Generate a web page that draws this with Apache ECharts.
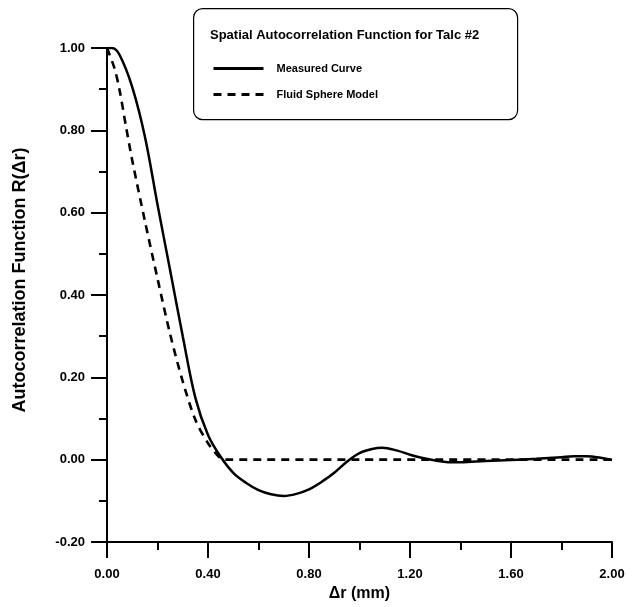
<!DOCTYPE html>
<html>
<head>
<meta charset="utf-8">
<script src="https://cdn.jsdelivr.net/npm/echarts@6/dist/echarts.min.js"></script>
<style>
  html, body { margin: 0; padding: 0; background: #fff; }
  #chart { width: 642px; height: 607px; }
</style>
</head>
<body>
<div id="chart"></div>
<script>
// measured autocorrelation, [dr (mm), R]
const measuredCurve = [
  [0, 1.0], [0.02, 1.0], [0.05, 0.983], [0.1, 0.905], [0.15, 0.785],
  [0.2, 0.62], [0.25, 0.46], [0.3, 0.30], [0.35, 0.15], [0.4, 0.06],
  [0.45, 0.007], [0.5, -0.032], [0.55, -0.056], [0.6, -0.074], [0.65, -0.084],
  [0.7, -0.088], [0.75, -0.083], [0.8, -0.072], [0.85, -0.054], [0.9, -0.032],
  [0.95, -0.005], [1.0, 0.016], [1.05, 0.026], [1.09, 0.029], [1.15, 0.022],
  [1.2, 0.012], [1.25, 0.004], [1.3, -0.002], [1.35, -0.006], [1.4, -0.006],
  [1.5, -0.003], [1.6, -0.001], [1.7, 0.002], [1.8, 0.006], [1.85, 0.008],
  [1.9, 0.008], [1.95, 0.005], [2.0, -0.001]
]

// fluid sphere model
const fluidSphereModel = [
  [0, 1.0], [0.03, 0.95], [0.05, 0.897], [0.075, 0.81], [0.1, 0.727],
  [0.15, 0.58], [0.2, 0.44], [0.25, 0.305], [0.3, 0.19], [0.35, 0.097],
  [0.4, 0.04], [0.45, 0.003], [0.47, 0], [1.0, 0], [2.0, 0]
]

const seriesNames = ['Measured Curve', 'Fluid Sphere Model']
const chartTitle = 'Spatial Autocorrelation Function for Talc #2'

const font = 'Liberation Sans, Arial, sans-serif'
const chart = echarts.init(document.getElementById('chart'), null, { renderer: 'canvas' })

const axisCommon = {
  axisLine: { onZero: false, lineStyle: { color: '#000', width: 2 } },
  axisTick: { inside: false, length: 16, lineStyle: { color: '#000', width: 2 } },
  minorTick: { show: true, splitNumber: 2, length: 8, lineStyle: { color: '#000', width: 2 } },
  splitLine: { show: false },
  axisLabel: {
    color: '#000', fontFamily: font, fontWeight: 'bold', fontSize: 13,
    formatter: v => v.toFixed(2)
  },
  nameTextStyle: { color: '#000', fontFamily: font, fontWeight: 'bold', fontSize: 16 },
}

chart.setOption({
  animation: false,
  backgroundColor: '#fff',
  grid: { left: 107, right: 30, top: 48, bottom: 62, containLabel: false },
  xAxis: {
    ...axisCommon,
    type: 'value',
    min: 0, max: 2, interval: 0.4,
    name: 'Δr (mm)',
    nameLocation: 'middle',
    nameGap: 44,
    axisLabel: { ...axisCommon.axisLabel, margin: 26 },
  },
  yAxis: {
    ...axisCommon,
    type: 'value',
    min: -0.2, max: 1.0, interval: 0.2,
    name: 'Autocorrelation Function R(Δr)',
    nameLocation: 'middle',
    nameGap: 78,
    nameTextStyle: { ...axisCommon.nameTextStyle, fontSize: 18, padding: [0, 0, 0, 30] },
    axisLabel: { ...axisCommon.axisLabel, margin: 22 },
  },
  legend: {
    orient: 'vertical',
    left: 207,
    top: 58,
    itemWidth: 50,
    itemHeight: 12,
    itemGap: 15,
    data: seriesNames,
    itemStyle: { opacity: 0 },
    lineStyle: { width: 3 },
    textStyle: { color: '#000', fontFamily: font, fontWeight: 'bold', fontSize: 11, padding: [0, 0, 0, 8] },
  },
  graphic: [
    {
      type: 'rect',
      left: 193, top: 8, z: 0,
      shape: { width: 324, height: 111, r: 9 },
      style: { fill: '#fff', stroke: '#000', lineWidth: 1.2 },
    },
    {
      type: 'text',
      left: 210, top: 29, z: 1,
      style: { text: chartTitle, fill: '#000', font: 'bold 13px ' + font },
    },
  ],
  series: [
    {
      name: seriesNames[0],
      type: 'line',
      data: measuredCurve,
      smooth: 0.35,
      symbol: 'none',
      lineStyle: { color: '#000', width: 2.5 },
      itemStyle: { color: '#000' },
      z: 3,
    },
    {
      name: seriesNames[1],
      type: 'line',
      data: fluidSphereModel,
      smooth: 0.3,
      symbol: 'none',
      lineStyle: { color: '#000', width: 2.6, type: [8, 6] },
      itemStyle: { color: '#000' },
      z: 2,
    },
  ],
})
</script>
</body>
</html>
